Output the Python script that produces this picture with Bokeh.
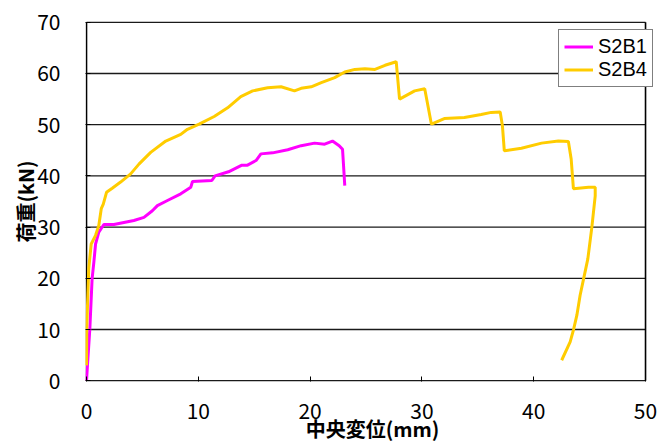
import math
from bokeh.plotting import figure
from bokeh.models import Range1d, FixedTicker, Legend, LegendItem
from bokeh.embed import file_html
from bokeh.resources import INLINE

# ---- data ----
x_ticks = [0, 10, 20, 30, 40, 50]
y_ticks = [0, 10, 20, 30, 40, 50, 60, 70]

s2b1_x = [0.0, 0.1, 0.3, 0.5, 0.66, 0.81, 1.1, 1.55, 2.45, 4.24, 5.14, 5.89, 6.34, 7.24,
          8.43, 9.33, 9.48, 11.21, 11.5, 12.7, 13.9, 14.4, 15.16, 15.6, 16.65, 18.0,
          19.2, 20.4, 21.3, 22.0, 22.6, 22.9, 23.1]
s2b1_y = [0.0, 3.5, 10.2, 19.9, 23.2, 26.7, 29.0, 30.5, 30.5, 31.3, 31.9, 33.2, 34.2, 35.2,
          36.5, 37.8, 38.9, 39.1, 40.0, 40.8, 42.1, 42.1, 43.0, 44.3, 44.5, 45.1,
          45.9, 46.4, 46.2, 46.8, 45.9, 45.2, 38.1]

s2b4_x = [0.0, 0.02, 0.12, 0.2, 0.42, 0.81, 1.1, 1.32, 1.5, 1.79, 2.3, 3.05, 3.95, 4.69,
          5.74, 7.09, 8.43, 9.03, 10.07, 11.42, 12.62, 13.8, 14.86, 16.2, 17.4, 18.6,
          19.2, 20.1, 21.0, 22.2, 23.1, 24.0, 24.9, 25.8, 26.7, 27.7, 28.0, 29.35,
          30.25, 30.85, 32.0, 33.8, 35.3, 36.2, 37.0, 37.2, 37.37, 38.9, 40.7, 42.2,
          43.1, 43.35, 43.55, 44.9, 45.5, 45.5, 45.2, 44.84, 44.46, 44.15, 43.86,
          43.55, 43.26, 42.5]
s2b4_y = [3.0, 10.2, 16.7, 21.9, 26.7, 28.4, 30.3, 33.6, 34.5, 36.8, 37.6, 38.8, 40.4, 42.3,
          44.6, 46.8, 48.1, 49.1, 50.1, 51.6, 53.3, 55.5, 56.6, 57.2, 57.4, 56.6,
          57.1, 57.4, 58.2, 59.2, 60.3, 60.8, 60.9, 60.8, 61.6, 62.3, 55.0, 56.6,
          57.0, 50.1, 51.2, 51.4, 52.0, 52.4, 52.5, 49.8, 44.9, 45.4, 46.4, 46.8,
          46.7, 43.3, 37.5, 37.8, 37.8, 36.1, 30.0, 23.8, 19.9, 16.7, 12.8,
          9.9, 7.6, 4.0]

series_names = ["S2B1", "S2B4"]
colors = ["#FF00FF", "#FFCC00"]
x_label = "中央変位(mm)"
y_label = "荷重(kN)"

FONT = "Noto Sans CJK JP"

x0, x1 = x_ticks[0], x_ticks[-1]
y0, y1 = y_ticks[0], y_ticks[-1]

# frame is wider than the 0..50 box so the legend can sit past the right border
p = figure(width=660, height=445, output_backend="svg", toolbar_location=None,
           x_range=Range1d(x0 - 0.09, 51.25), y_range=Range1d(y0 - 0.15, y1 + 0.15),
           min_border_left=85, min_border_right=1, min_border_top=21, min_border_bottom=62)

p.background_fill_color = "white"
p.border_fill_color = "white"
p.outline_line_color = None
p.xgrid.visible = False
p.ygrid.visible = False

# horizontal grid lines (and top/bottom border) limited to the 0..50 box
n = len(y_ticks)
p.segment(x0=[x0] * n, y0=y_ticks, x1=[x1] * n, y1=y_ticks,
          line_color="#1a1a1a", line_width=1.3)
# left and right borders
p.segment(x0=[x0, x1], y0=[y0, y0], x1=[x0, x1], y1=[y1, y1],
          line_color="black", line_width=1.6)

p.xaxis.ticker = FixedTicker(ticks=x_ticks)
p.yaxis.ticker = FixedTicker(ticks=y_ticks)
for ax in (p.xaxis, p.yaxis):
    ax.axis_line_color = None
    ax.major_tick_in = 5
    ax.major_tick_out = 0
    ax.major_tick_line_color = "black"
    ax.major_tick_line_width = 1
    ax.minor_tick_in = 0
    ax.minor_tick_out = 0
    ax.major_label_text_font = FONT
    ax.major_label_text_font_size = "21px"
    ax.major_label_text_color = "black"
    ax.axis_label_text_font = FONT
    ax.axis_label_text_font_style = "bold"
    ax.axis_label_text_font_size = "20px"
    ax.axis_label_text_color = "black"
p.xaxis.major_label_standoff = 21
p.yaxis.major_label_standoff = 25
p.xaxis.axis_label = x_label
p.yaxis.axis_label = y_label
p.xaxis.axis_label_standoff = -8
p.yaxis.axis_label_standoff = -6

r1 = p.line(s2b1_x, s2b1_y, line_color=colors[0], line_width=3)
r2 = p.line(s2b4_x, s2b4_y, line_color=colors[1], line_width=3)

legend = Legend(items=[LegendItem(label=series_names[0], renderers=[r1]),
                       LegendItem(label=series_names[1], renderers=[r2])],
                location=(473, 294), margin=0, padding=5, spacing=0,
                glyph_width=29, glyph_height=21, label_height=21, label_standoff=5,
                label_text_font="Liberation Sans", label_text_font_size="20px",
                label_text_color="black",
                border_line_color="black", border_line_width=1,
                background_fill_color="white", background_fill_alpha=1.0)
p.add_layout(legend)

open("out.html", "w").write(file_html(p, INLINE))
